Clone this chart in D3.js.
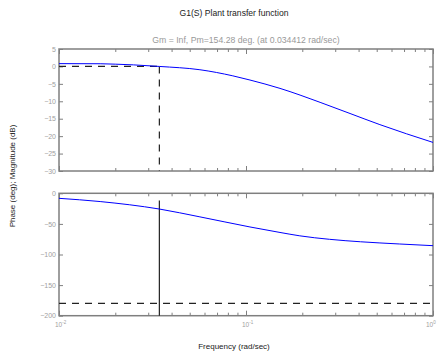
<!DOCTYPE html>
<html>
<head>
<meta charset="utf-8">
<script src="https://cdn.jsdelivr.net/npm/d3@7"></script>
<style>
  body { margin: 0; background: #fff; }
  text { font-family: "Liberation Sans", Arial, sans-serif; }
</style>
</head>
<body>
<svg id="chart" width="438" height="356"></svg>
<script>
// frequency samples (rad/sec)
var magFreq = [0.01, 0.0166, 0.02, 0.025, 0.0344, 0.0567, 0.085, 0.105, 0.152, 0.249, 0.36, 0.52, 1.0];
var magDb   = [0.8, 0.77, 0.65, 0.45, 0, -0.95, -2.7, -3.9, -6.3, -10.3, -13.5, -16.7, -21.8];

var phaseFreq = [0.01, 0.0166, 0.0344, 0.0567, 0.105, 0.152, 0.194, 0.28, 0.41, 0.66, 1.0];
var phaseDeg  = [-8.2, -13.5, -25.7, -38.5, -55, -64, -69.5, -75.2, -79.2, -82.8, -85.6];

var magTicks = [5, 0, -5, -10, -15, -20, -25, -30];
var phaseTicks = [0, -50, -100, -150, -200];
var decadeTicks = [0.01, 0.1, 1];

var wc = 0.034412;   // gain crossover
var pm = 154.28;

var svg = d3.select("#chart");

var x = d3.scaleLog().domain([0.01, 1]).range([59, 433]);
var yMag = d3.scaleLinear().domain([5, -30]).range([49, 171]);
var yPh = d3.scaleLinear().domain([0, -200]).range([193.3, 315.7]);

// minor ticks 2..9 in each decade
var minor = [];
[0.01, 0.1].forEach(function(d) {
  for (var k = 2; k <= 9; k++) minor.push(d * k);
});

var grey = "#7f7f7f";

function drawPanel(y, ticks, showX) {
  var g = svg.append("g");
  var r = y.range();

  // box
  g.append("rect")
    .attr("x", 59).attr("y", r[0])
    .attr("width", 433 - 59).attr("height", r[1] - r[0])
    .attr("fill", "none").attr("stroke", grey).attr("stroke-width", 1.5);

  // left ticks with labels
  var left = g.append("g").attr("transform", "translate(59,0)")
    .call(d3.axisLeft(y).tickValues(ticks).tickSizeInner(-4).tickSizeOuter(0).tickPadding(3));
  // right ticks
  var right = g.append("g").attr("transform", "translate(433,0)")
    .call(d3.axisRight(y).tickValues(ticks).tickSizeInner(-4).tickSizeOuter(0).tickFormat(""));
  // bottom ticks
  var bottom = g.append("g").attr("transform", "translate(0," + r[1] + ")")
    .call(d3.axisBottom(x).tickValues(decadeTicks).tickSizeInner(-5).tickSizeOuter(0).tickFormat(""));
  var bottomMinor = g.append("g").attr("transform", "translate(0," + r[1] + ")")
    .call(d3.axisBottom(x).tickValues(minor).tickSizeInner(-3).tickSizeOuter(0).tickFormat(""));
  var top = g.append("g").attr("transform", "translate(0," + r[0] + ")")
    .call(d3.axisTop(x).tickValues(decadeTicks).tickSizeInner(-5).tickSizeOuter(0).tickFormat(""));
  var topMinor = g.append("g").attr("transform", "translate(0," + r[0] + ")")
    .call(d3.axisTop(x).tickValues(minor).tickSizeInner(-3).tickSizeOuter(0).tickFormat(""));

  [left, right, bottom, bottomMinor, top, topMinor].forEach(function(a) {
    a.select(".domain").remove();
    a.selectAll("line").attr("stroke", grey);
  });
  left.selectAll("text").attr("fill", "#a0a0a0").style("font-size", "7px")
    .style("font-family", "Liberation Sans, Arial, sans-serif");

  if (showX) {
    var lab = g.selectAll(".xlab").data(decadeTicks).enter().append("text")
      .attr("x", function(d) { return x(d) - (d === 1 ? 7 : 4); })
      .attr("y", r[1] + 11)
      .attr("fill", "#a0a0a0")
      .style("font-size", "6.5px");
    lab.append("tspan").text("10");
    lab.append("tspan").attr("dy", -3).style("font-size", "4.5px")
      .text(function(d) { return Math.round(Math.log10(d)); });
  }
  return g;
}

drawPanel(yMag, magTicks, false);
drawPanel(yPh, phaseTicks, true);

var dash = "7,6";

// magnitude margin lines
svg.append("line")
  .attr("x1", x(0.01)).attr("x2", x(wc))
  .attr("y1", yMag(0)).attr("y2", yMag(0))
  .attr("stroke", "#222").attr("stroke-dasharray", dash).attr("stroke-width", 1.2);
svg.append("line")
  .attr("x1", x(wc)).attr("x2", x(wc))
  .attr("y1", yMag(0)).attr("y2", yMag(-30))
  .attr("stroke", "#222").attr("stroke-dasharray", dash).attr("stroke-width", 1.2);

// phase margin lines
svg.append("line")
  .attr("x1", x(0.01)).attr("x2", x(1))
  .attr("y1", yPh(-180)).attr("y2", yPh(-180))
  .attr("stroke", "#222").attr("stroke-dasharray", dash).attr("stroke-width", 1.2);
svg.append("line")
  .attr("x1", x(wc)).attr("x2", x(wc))
  .attr("y1", yPh(pm - 180 + 14)).attr("y2", yPh(-200))
  .attr("stroke", "#222").attr("stroke-width", 1.2);

// curves
var magLine = d3.line()
  .x(function(d, i) { return x(magFreq[i]); })
  .y(function(d) { return yMag(d); })
  .curve(d3.curveMonotoneX);
svg.append("path").datum(magDb)
  .attr("d", magLine)
  .attr("fill", "none").attr("stroke", "#0000ff").attr("stroke-width", 1);

var phLine = d3.line()
  .x(function(d, i) { return x(phaseFreq[i]); })
  .y(function(d) { return yPh(d); })
  .curve(d3.curveMonotoneX);
svg.append("path").datum(phaseDeg)
  .attr("d", phLine)
  .attr("fill", "none").attr("stroke", "#0000ff").attr("stroke-width", 1);

// titles
svg.append("text")
  .attr("x", 234).attr("y", 16)
  .attr("text-anchor", "middle")
  .attr("fill", "#222")
  .style("font-size", "8.6px")
  .text("G1(S) Plant transfer function");

svg.append("text")
  .attr("x", 246).attr("y", 43)
  .attr("text-anchor", "middle")
  .attr("fill", "#999")
  .style("font-size", "8.7px")
  .text("Gm = Inf, Pm=" + pm + " deg. (at " + wc + " rad/sec)");

svg.append("text")
  .attr("x", 234).attr("y", 349)
  .attr("text-anchor", "middle")
  .attr("fill", "#222")
  .style("font-size", "8px")
  .text("Frequency (rad/sec)");

svg.append("text")
  .attr("transform", "translate(15,176) rotate(-90)")
  .attr("text-anchor", "middle")
  .attr("fill", "#222")
  .style("font-size", "8px")
  .text("Phase (deg); Magnitude (dB)");
</script>
</body>
</html>
